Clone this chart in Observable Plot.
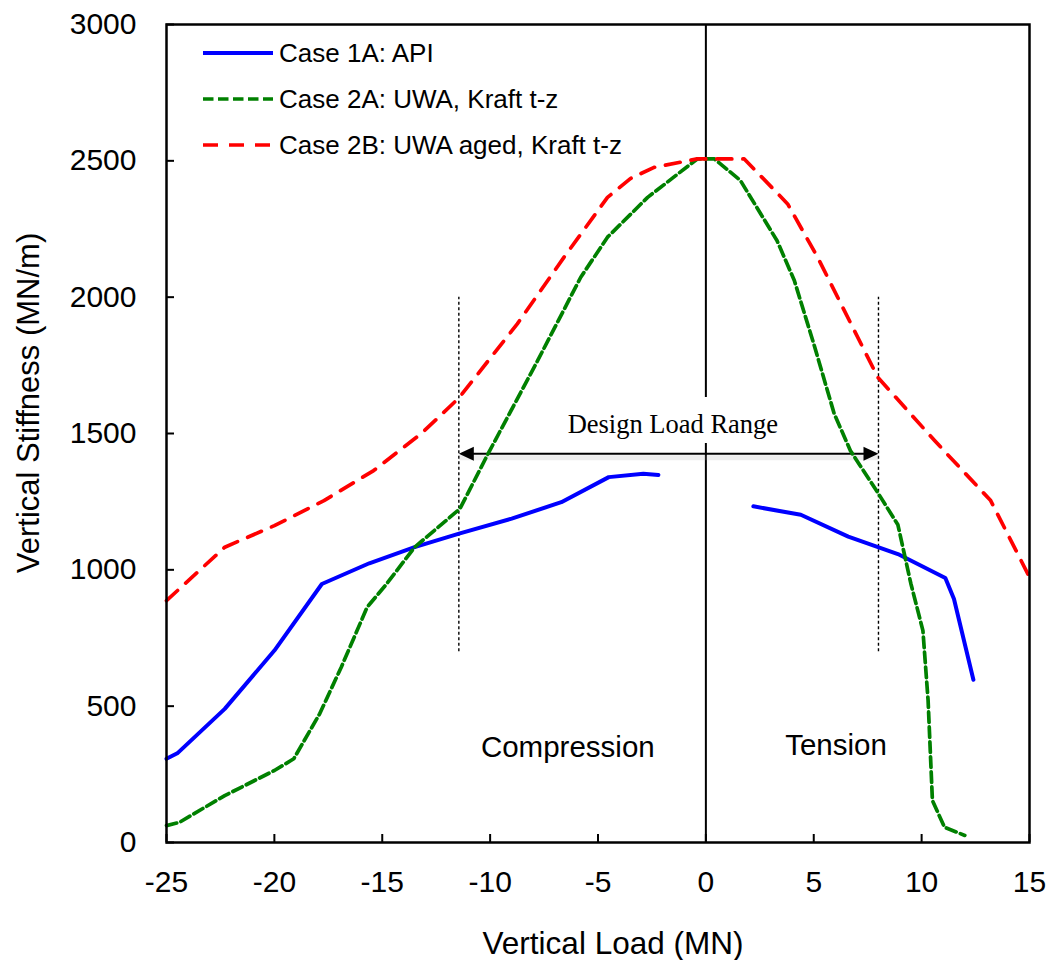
<!DOCTYPE html>
<html>
<head>
<meta charset="utf-8">
<script src="https://cdn.jsdelivr.net/npm/d3@7"></script>
<script src="https://cdn.jsdelivr.net/npm/@observablehq/plot@0.6"></script>
<style>
  body { margin: 0; background: #fff; }
  #chart { width: 1049px; height: 960px; }
</style>
</head>
<body>
<div id="chart"></div>
<script>
// ---------- Data ----------
const xTicks = [-25, -20, -15, -10, -5, 0, 5, 10, 15];
const yTicks = [0, 500, 1000, 1500, 2000, 2500, 3000];
const xTitle = "Vertical Load (MN)";
const yTitle = "Vertical Stiffness (MN/m)";

const seriesNames = ["Case 1A: API", "Case 2A: UWA, Kraft t-z", "Case 2B: UWA aged, Kraft t-z"];
const seriesColors = ["#0000FF", "#008000", "#FF0000"];
const seriesDashes = [null, "10.5,4.5", "15,11"];
const seriesWidths = [4, 3.7, 3.7];

// Case 1A (API) - compression branch and tension branch
const case1A_compLoad  = [-25.0, -24.5, -22.3, -20.0, -17.8, -15.6, -13.5, -11.4, -9.0, -6.7, -4.5, -2.9, -2.2];
const case1A_compStiff = [307, 327, 490, 704, 948, 1024, 1083, 1134, 1188, 1248, 1340, 1352, 1348];
const case1A_tensLoad  = [2.2, 4.4, 6.6, 8.9, 11.1, 11.5, 12.4];
const case1A_tensStiff = [1233, 1202, 1122, 1058, 970, 893, 597];

// Case 2A (UWA, Kraft t-z)
const case2A_load  = [-25.0, -24.4, -22.3, -20.0, -19.1, -17.9, -16.9, -15.7, -14.8, -13.5, -11.4, -10.1, -7.8, -5.8, -4.56, -2.7, -0.4,
                      0.4, 1.6, 3.3, 4.1, 5.0, 5.95, 6.7, 8.0, 8.9, 9.5, 10.06, 10.3, 10.5, 11.06, 12.0];
const case2A_stiff = [62, 74, 172, 264, 307, 472, 643, 863, 948, 1083, 1224, 1425, 1767, 2073, 2220, 2366, 2507,
                      2507, 2428, 2207, 2061, 1829, 1572, 1437, 1279, 1165, 950, 777, 521, 154, 56, 26];

// Case 2B (UWA aged, Kraft t-z)
const case2B_load  = [-25.0, -22.3, -20.0, -17.7, -15.4, -13.2, -11.45, -8.74, -6.58, -4.56, -3.5, -2.4, -0.4,
                      0.4, 1.78, 3.79, 5.18, 7.97, 10.6, 13.2, 15.0];
const case2B_stiff = [887, 1083, 1162, 1254, 1364, 1499, 1630, 1902, 2146, 2366, 2435, 2476, 2507,
                      2507, 2507, 2342, 2146, 1706, 1474, 1254, 973];

// Annotations
const designRange = [-11.45, 8];          // MN, dashed verticals / arrow ends
const designRuleStiff = [700, 2000];      // extent of dashed verticals
const designArrowStiff = 1426;
const designLabel = "Design Load Range";
const designLabelX = -1.53, designLabelY = 1533;
const centerGap = [1463, 1632];           // white box behind design label
const regionLabels = ["Compression", "Tension"];
const regionLabelX = [-6.4, 6.03];
const regionLabelY = [348, 356];

// ---------- Build tables ----------
const rows = [];
case1A_compLoad.forEach((x, i) => rows.push({series: seriesNames[0], seg: "1A-c", x, y: case1A_compStiff[i]}));
case1A_tensLoad.forEach((x, i) => rows.push({series: seriesNames[0], seg: "1A-t", x, y: case1A_tensStiff[i]}));
const rows2A = case2A_load.map((x, i) => ({x, y: case2A_stiff[i]}));
const rows2B = case2B_load.map((x, i) => ({x, y: case2B_stiff[i]}));

const centerSegments = [{y1: 0, y2: centerGap[0]}, {y1: centerGap[1], y2: 3000}];
const regionRows = regionLabels.map((t, i) => ({t, x: regionLabelX[i], y: regionLabelY[i]}));

// Arrowhead: filled triangle with tip at origin pointing right
const arrowHead = {
  draw(context) {
    context.moveTo(0, 0);
    context.lineTo(-15, -7);
    context.lineTo(-15, 7);
    context.closePath();
  }
};

const SANS = "'Liberation Sans', Arial, sans-serif";
const SERIF = "'Liberation Serif', 'Times New Roman', serif";

const legendMark = (index, scales, values, dims) => {
  const g = d3.create("svg:g");
  seriesNames.forEach((name, i) => {
    const y = dims.marginTop + 29 + i * 46;
    const x0 = dims.marginLeft + 37;
    g.append("line")
      .attr("x1", x0).attr("x2", x0 + 70)
      .attr("y1", y).attr("y2", y)
      .attr("stroke", seriesColors[i])
      .attr("stroke-width", seriesWidths[i])
      .attr("stroke-dasharray", seriesDashes[i]);
    g.append("text")
      .attr("x", x0 + 76).attr("y", y).attr("dy", "0.36em")
      .attr("text-anchor", "start")
      .attr("font-family", SANS).attr("font-size", 26)
      .attr("fill", "black")
      .text(name);
  });
  return g.node();
};

const yTitleMark = (index, scales, values, dims) => {
  const g = d3.create("svg:g");
  g.append("text")
    .attr("transform", `translate(${dims.marginLeft - 138},403) rotate(-90)`)
    .attr("text-anchor", "middle")
    .attr("dy", "0.36em")
    .attr("font-family", SANS).attr("font-size", 31)
    .attr("fill", "black")
    .text(yTitle);
  return g.node();
};

const chart = Plot.plot({
  width: 1049,
  height: 960,
  marginLeft: 166,
  marginRight: 20,
  marginTop: 24,
  marginBottom: 118,
  style: {fontFamily: SANS, fontSize: "30px", color: "black", background: "white", overflow: "visible"},
  x: {domain: [-25, 15]},
  y: {domain: [0, 3000]},
  marks: [
    // center vertical line (with gap behind the label)
    Plot.ruleX(centerSegments, {x: () => 0, y1: "y1", y2: "y2", stroke: "black", strokeWidth: 2}),
    // design range dashed verticals
    Plot.ruleX(designRange, {x: d => d, y1: designRuleStiff[0], y2: designRuleStiff[1], stroke: "black", strokeWidth: 1.4, strokeDasharray: "3,2.5"}),
    // arrow shadow
    Plot.link([0], {x1: designRange[0], x2: designRange[1], y1: designArrowStiff, y2: designArrowStiff, dy: 4, stroke: "#999", strokeWidth: 5, strokeOpacity: 0.18}),
    // arrow shaft
    Plot.link([0], {x1: designRange[0] + 0.4, x2: designRange[1] - 0.4, y1: designArrowStiff, y2: designArrowStiff, stroke: "black", strokeWidth: 2}),
    Plot.dot([designRange[1]], {x: d => d, y: designArrowStiff, symbol: arrowHead, fill: "black", stroke: null, r: 8}),
    Plot.dot([designRange[0]], {x: d => d, y: designArrowStiff, symbol: arrowHead, fill: "black", stroke: null, r: 8, rotate: 180}),
    Plot.text([designLabel], {x: designLabelX, y: designLabelY, text: d => d, fontFamily: SERIF, fontSize: 26.5, fill: "black", lineAnchor: "middle"}),
    Plot.text(regionRows, {x: "x", y: "y", text: "t", fontSize: 29.5, fill: "black", lineAnchor: "middle"}),
    // series
    Plot.line(rows, {x: "x", y: "y", z: "seg", stroke: seriesColors[0], strokeWidth: seriesWidths[0], strokeLinejoin: "round"}),
    Plot.line(rows2A, {x: "x", y: "y", stroke: seriesColors[1], strokeWidth: seriesWidths[1], strokeDasharray: seriesDashes[1]}),
    Plot.line(rows2B, {x: "x", y: "y", stroke: seriesColors[2], strokeWidth: seriesWidths[2], strokeDasharray: seriesDashes[2]}),
    // axes with inward ticks
    Plot.axisX({ticks: xTicks, tickFormat: d => String(d), tickSize: -8, tickPadding: 36, strokeWidth: 2, fontSize: 30, label: null}),
    Plot.axisY({ticks: yTicks, tickFormat: d => String(d), tickSize: -8, tickPadding: 38, strokeWidth: 2, fontSize: 30, label: null}),
    Plot.frame({stroke: "black", strokeWidth: 2.5}),
    // axis titles
    Plot.text([xTitle], {frameAnchor: "bottom", text: d => d, dx: 15, dy: 101, fontSize: 31.5, fill: "black", lineAnchor: "middle"}),
    yTitleMark,
    legendMark
  ]
});

document.getElementById("chart").appendChild(chart);
</script>
</body>
</html>
